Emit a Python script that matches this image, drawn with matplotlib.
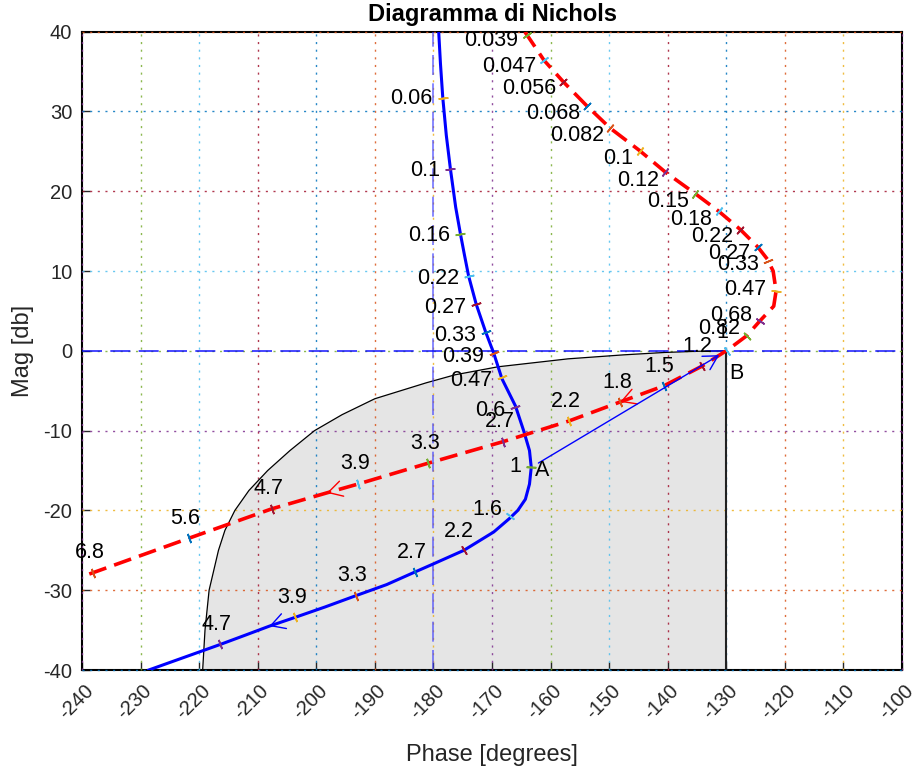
import numpy as np
import matplotlib
matplotlib.use('Agg')
import matplotlib.pyplot as plt
import matplotlib.transforms as mtransforms

plt.rcParams['font.family'] = ['Liberation Sans', 'DejaVu Sans']
plt.rcParams['axes.unicode_minus'] = False

# MATLAB colour order, reused for grid lines and frequency ticks
ORDER = ['#0072BD', '#D95319', '#EDB120', '#7E2F8E', '#77AC30', '#4DBEEE', '#A2142F']

# open loop G(jw), uncompensated (blue)
g_phase = [-179.1, -178.8, -178.4, -177.8, -177.1, -176.2, -175.4, -174.7, -174.0, -172.7,
           -171.1, -169.7, -168.3, -166.0, -164.6, -163.6, -163.3, -163.6, -164.3, -165.6,
           -167.0, -169.7, -174.8, -180.0, -183.1, -188.0, -193.3, -198.5, -203.6, -208.0,
           -212.0, -216.4, -222.5, -228.6]
g_mag = [40.0, 36.0, 31.7, 27.0, 22.8, 18.0, 14.7, 12.0, 9.4, 5.85,
         2.4, -0.3, -3.5, -6.9, -10.0, -12.5, -14.6, -16.7, -18.6, -20.0,
         -21.0, -22.7, -25.0, -26.7, -27.7, -29.3, -30.7, -32.1, -33.4, -34.5,
         -35.6, -36.8, -38.4, -40.0]
g_arrows = [29]

g_w_lbl = ['0.06', '0.1', '0.16', '0.22', '0.27', '0.33', '0.39', '0.47', '0.6', '1',
           '1.6', '2.2', '2.7', '3.3', '3.9', '4.7']
g_w_phase = [-178.4, -177.1, -175.4, -174.0, -172.7, -171.1, -169.7, -168.3, -166.1, -163.3,
             -166.9, -174.8, -183.1, -193.3, -203.6, -216.4]
g_w_mag = [31.7, 22.8, 14.7, 9.4, 5.85, 2.4, -0.3, -3.3, -7.1, -14.6,
           -20.7, -25.0, -27.7, -30.7, -33.4, -36.8]

# compensated loop (red dashed)
c_phase = [-164.4, -161.1, -157.8, -153.8, -149.8, -144.8, -140.4, -135.3, -131.3, -127.6,
           -124.6, -123.0, -122.0, -121.5, -121.9, -124.2, -126.5, -129.6, -134.1, -140.7,
           -148.1, -156.9, -168.2, -181.0, -192.9, -198.2, -207.6, -221.8, -238.1, -240.0]
c_mag = [40.0, 36.4, 33.7, 30.7, 27.9, 25.1, 22.4, 19.7, 17.5, 15.2,
         13.0, 11.5, 10.0, 7.5, 5.6, 3.8, 1.9, 0.2, -1.9, -4.4,
         -6.4, -8.8, -11.4, -14.1, -16.7, -17.8, -19.8, -23.5, -27.8, -28.3]
c_arrows = [20, 25]

c_w_lbl = ['0.039', '0.047', '0.056', '0.068', '0.082', '0.1', '0.12', '0.15', '0.18', '0.22',
           '0.27', '0.33', '0.47', '0.68', '0.82', '1', '1.2', '1.5', '1.8', '2.2',
           '2.7', '3.3', '3.9', '4.7', '5.6', '6.8']
c_w_phase = [-164.1, -161.1, -157.8, -153.8, -149.8, -144.8, -140.4, -135.3, -131.3, -127.6,
             -124.6, -122.8, -121.5, -124.2, -126.5, -129.8, -134.1, -140.7, -148.1, -156.9,
             -168.2, -181.0, -192.9, -207.6, -221.8, -238.1]
c_w_mag = [39.6, 36.4, 33.7, 30.7, 27.9, 25.1, 22.4, 19.7, 17.5, 15.2,
           13.0, 11.3, 7.5, 3.8, 1.9, 0.0, -1.9, -4.4, -6.4, -8.8,
           -11.4, -14.1, -16.7, -19.8, -23.5, -27.8]

# admissible region for the lead network (grey)
reg_phase = [-219.4, -219.0, -218.3, -216.7, -215.6, -213.9, -211.5, -208.3, -204.5, -200.3,
             -195.6, -190.0, -181.2, -176.3, -169.0, -157.0, -147.5, -140.5, -134.8, -130.0]
reg_mag = [-40.0, -35.0, -30.0, -25.0, -22.5, -20.0, -17.5, -15.0, -12.5, -10.0,
           -8.0, -6.0, -4.0, -3.0, -2.0, -1.0, -0.5, -0.2, -0.05, 0.0]

A_pt = (-163.3, -14.6)
B_pt = (-130.0, 0.0)

x_ticks = np.arange(-240, -99, 10)
y_ticks = np.arange(-40, 41, 10)

HEAD = '->,head_length=0.5,head_width=0.28'


def freq_marks(ax, phase, mag, labels, start):
    # short coloured ticks across the curve, label on the right-hand side of travel
    pts = ax.transData.transform(np.column_stack([phase, mag]))
    d = np.gradient(pts, axis=0)
    d /= np.hypot(d[:, 0], d[:, 1])[:, None]
    n = np.column_stack([d[:, 1], -d[:, 0]])
    for k, (x, y, s) in enumerate(zip(phase, mag, labels)):
        ang = np.degrees(np.arctan2(n[k, 1], n[k, 0])) - 90
        ax.plot(x, y, marker=(2, 2, ang), ms=7, mew=1.2, color=ORDER[(start + k) % 7], zorder=5)
        if n[k, 1] > 0.8:
            ha, va = 'center', 'bottom'
        else:
            ha, va = ('right' if n[k, 0] < -0.3 else 'center'), 'center'
        ax.annotate(s, (x, y), xytext=(10 * n[k, 0], 10 * n[k, 1]), textcoords='offset pixels',
                    ha=ha, va=va, fontsize=15.5, zorder=6)


def arrow_heads(ax, phase, mag, idx, color):
    for i in idx:
        p = ax.transData.transform([(phase[i - 1], mag[i - 1]), (phase[i], mag[i])])
        d = p[1] - p[0]
        d /= np.hypot(*d)
        ax.annotate('', xy=(phase[i], mag[i]), xytext=(-4 * d[0], -4 * d[1]),
                    textcoords='offset pixels', zorder=5,
                    arrowprops=dict(arrowstyle=HEAD, color=color, lw=1,
                                    shrinkA=0, shrinkB=0, mutation_scale=20))


fig = plt.figure(figsize=(9.17, 7.71), dpi=100)
ax = fig.add_axes([82 / 917, 1 - 670 / 771, 820 / 917, 638.3 / 771])
ax.set_xlim(-240, -100)
ax.set_ylim(-40, 40)

# grey region and its border
ax.fill(reg_phase + [B_pt[0]], reg_mag + [y_ticks[0]], color='#e5e5e5', lw=0, zorder=1)
ax.plot(reg_phase, reg_mag, color='k', lw=0.9, zorder=3)
ax.plot([B_pt[0], B_pt[0]], [B_pt[1], y_ticks[0]], color='#222222', lw=1.5, zorder=3)

# coloured dotted grid
for i, x in enumerate(x_ticks):
    ax.axvline(x, color=ORDER[(i + 3) % 7], ls=(0, (1.5, 4)), lw=1, alpha=0.85,
               zorder=2.6, clip_on=False)
for j, y in enumerate(y_ticks):
    ax.axhline(y, color=ORDER[j % 7], ls=(0, (1.5, 4)), lw=1, alpha=0.85,
               zorder=2.6, clip_on=False)

# -180 deg / 0 dB reference lines
ax.axvline(-180, color='#3a3aff', ls=(0, (12, 5)), lw=1.2, alpha=0.7, zorder=3)
ax.axhline(0, color='#0000ff', ls=(0, (12, 5)), lw=1.2, alpha=0.85, zorder=3)

ax.plot(g_phase, g_mag, color='b', lw=2.2, zorder=4)
ax.plot(c_phase, c_mag, color='r', lw=2.6, dashes=(5, 2.3), zorder=4)

freq_marks(ax, g_w_phase, g_w_mag, g_w_lbl, 2)
freq_marks(ax, c_w_phase, c_w_mag, c_w_lbl, 4)
arrow_heads(ax, g_phase, g_mag, g_arrows, 'b')
arrow_heads(ax, c_phase, c_mag, c_arrows, 'r')

# A -> B shift
ax.annotate('', xy=B_pt, xytext=A_pt, zorder=5,
            arrowprops=dict(arrowstyle=HEAD, color='b', lw=1, shrinkA=6, shrinkB=6,
                            mutation_scale=20))
ax.annotate('A', A_pt, xytext=(4, -3), textcoords='offset pixels', ha='left', va='center',
            fontsize=15.5, zorder=6)
ax.annotate('B', B_pt, xytext=(3, -23), textcoords='offset pixels', ha='left', va='center',
            fontsize=15.5, zorder=6)

ax.set_xticks(x_ticks)
ax.set_xticklabels([str(v) for v in x_ticks], rotation=45, ha='center')
ax.set_yticks(y_ticks)
ax.tick_params(direction='in', length=6, width=1, colors='#262626', labelsize=14.5)
ax.tick_params(axis='x', pad=8)
ax.tick_params(axis='y', pad=7)
# nudge the rotated phase labels a little to the left
shift = mtransforms.ScaledTranslation(-0.06, 0, fig.dpi_scale_trans)
for lbl in ax.get_xticklabels():
    lbl.set_transform(lbl.get_transform() + shift)
for sp in ax.spines.values():
    sp.set_linewidth(1.5)
    sp.set_color('k')

ax.set_xlabel('Phase [degrees]', fontsize=17, color='#262626', labelpad=15)
ax.set_ylabel('Mag [db]', fontsize=17, color='#262626')
ax.yaxis.set_label_coords(-0.0585, 0.5)
ax.set_title('Diagramma di Nichols', fontsize=17, fontweight='bold', pad=8)

fig.savefig('out.png', dpi=100)
